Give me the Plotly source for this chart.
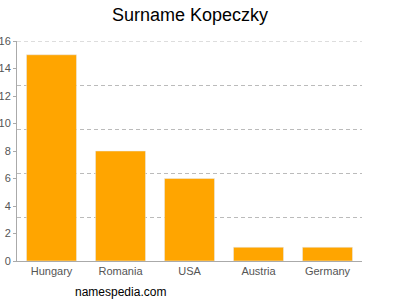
import plotly.graph_objects as go

countries = ["Hungary", "Romania", "USA", "Austria", "Germany"]
counts = [15, 8, 6, 1, 1]
y_ticks = [0, 2, 4, 6, 8, 10, 12, 14, 16]
grid_vals = [3.2, 6.4, 9.6, 12.8, 16]

fig = go.Figure()
fig.add_trace(go.Bar(x=countries, y=counts, marker_color="#FFA500", width=0.725, hoverinfo="skip"))
fig.add_trace(go.Scatter(x=countries, y=counts, yaxis="y2", mode="markers",
                         marker=dict(opacity=0), hoverinfo="skip", showlegend=False))

for g in grid_vals[-1:]:
    fig.add_shape(type="line", xref="paper", yref="y", x0=0, x1=1, y0=g, y1=g,
                  line=dict(color="#bbbbbb", width=1, dash="4px,3px"), layer="below")

fig.update_layout(
    width=400, height=300,
    margin=dict(l=17, r=38, t=41, b=39),
    plot_bgcolor="white", paper_bgcolor="white",
    showlegend=False,
    font=dict(family="Arial, Liberation Sans, sans-serif", color="#555555", size=11),
    title=dict(text="Surname Kopeczky", x=0.475, xanchor="center", y=0.95, yanchor="middle",
               font=dict(size=18, color="#000000")),
    xaxis=dict(showline=True, linecolor="#aaaaaa", linewidth=1, ticks="", showgrid=False,
               tickfont=dict(size=11, color="#555555"), automargin=False),
    yaxis=dict(range=[0, 16], tickvals=y_ticks, showgrid=False, showline=True,
               linecolor="#aaaaaa", linewidth=1, ticks="outside", ticklen=3, tickcolor="#aaaaaa",
               tickfont=dict(size=11, color="#555555"), zeroline=False, automargin=False),
    yaxis2=dict(range=[0, 16], overlaying="y", tickvals=grid_vals[:-1], showgrid=True,
                gridcolor="#bbbbbb", griddash="4px,3px", gridwidth=1, showticklabels=False,
                zeroline=False, showline=False, automargin=False),
    annotations=[dict(text="namespedia.com", xref="paper", yref="paper", x=0.30, y=-0.141,
                      xanchor="center", yanchor="middle", showarrow=False,
                      font=dict(size=12, color="#000000"))],
)
fig.write_html("out.html")
